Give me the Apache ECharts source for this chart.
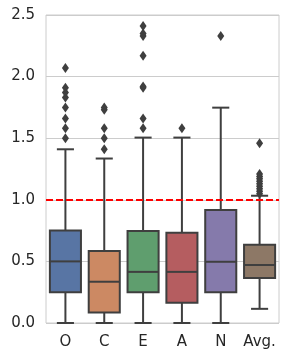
<!DOCTYPE html>
<html><head><meta charset="utf-8">
<script src="https://cdn.jsdelivr.net/npm/echarts@6/dist/echarts.min.js"></script>
<style>html,body{margin:0;padding:0;background:#fff}#c{width:288px;height:358px}</style>
</head><body><div id="c"></div>
<script>
const categories = ['O', 'C', 'E', 'A', 'N', 'Avg.'];
// [lower whisker, Q1, median, Q3, upper whisker]
const boxStats = [
  [0.0, 0.25, 0.50, 0.75, 1.41],
  [0.0, 0.085, 0.335, 0.585, 1.335],
  [0.0, 0.25, 0.415, 0.747, 1.505],
  [0.0, 0.165, 0.415, 0.733, 1.505],
  [0.0, 0.25, 0.497, 0.917, 1.748],
  [0.115, 0.365, 0.471, 0.636, 1.033]
];
const outliers = [
  [1.50, 1.58, 1.66, 1.75, 1.83, 1.87, 1.91, 2.07],
  [1.41, 1.50, 1.58, 1.73, 1.75],
  [1.58, 1.66, 1.91, 1.92, 2.17, 2.33, 2.35, 2.41],
  [1.58],
  [2.33],
  [1.05, 1.07, 1.09, 1.11, 1.13, 1.15, 1.17, 1.19, 1.21, 1.46]
];
const colors = ['#5875a4', '#cc8963', '#5f9e6e', '#b55d60', '#857aab', '#8d7866'];
const thresholdValue = 1.0;
const yTicks = { min: 0, max: 2.5, interval: 0.5 };

const lineColor = '#3f3f3f';
const boxData = boxStats.map((s, i) => [i].concat(s));
const outlierData = [];
outliers.forEach((arr, i) => arr.forEach(v => outlierData.push([i, v])));

function renderBox(params, api) {
  const idx = api.value(0);
  const lo = api.coord([idx, api.value(1)]);
  const q1 = api.coord([idx, api.value(2)]);
  const md = api.coord([idx, api.value(3)]);
  const q3 = api.coord([idx, api.value(4)]);
  const hi = api.coord([idx, api.value(5)]);
  const bw = api.size([1, 0])[0] * 0.8;
  const cw = bw * 0.55;
  const x = lo[0];
  const ls = { stroke: lineColor, lineWidth: 2 };
  return {
    type: 'group',
    children: [
      { type: 'line', shape: { x1: x, y1: q3[1], x2: x, y2: hi[1] }, style: ls },
      { type: 'line', shape: { x1: x, y1: q1[1], x2: x, y2: lo[1] }, style: ls },
      { type: 'line', shape: { x1: x - cw / 2, y1: hi[1], x2: x + cw / 2, y2: hi[1] }, style: ls },
      { type: 'line', shape: { x1: x - cw / 2, y1: lo[1], x2: x + cw / 2, y2: lo[1] }, style: ls },
      { type: 'rect', shape: { x: x - bw / 2, y: q3[1], width: bw, height: q1[1] - q3[1] },
        style: { fill: colors[idx], stroke: lineColor, lineWidth: 2 } },
      { type: 'line', shape: { x1: x - bw / 2, y1: md[1], x2: x + bw / 2, y2: md[1] }, style: ls }
    ]
  };
}

const chart = echarts.init(document.getElementById('c'), null, { renderer: 'canvas' });
chart.setOption({
  animation: false,
  backgroundColor: '#ffffff',
  grid: { left: 46, right: 9, top: 15, bottom: 35, containLabel: false, outerBoundsMode: 'none',
    show: true, borderColor: '#cccccc', borderWidth: 1, backgroundColor: 'transparent' },
  xAxis: {
    type: 'category', data: categories, boundaryGap: true,
    axisLine: { show: false }, axisTick: { show: false }, splitLine: { show: false },
    axisLabel: { color: '#262626', fontSize: 15, fontFamily: 'DejaVu Sans', margin: 12, interval: 0 }
  },
  yAxis: {
    type: 'value', min: yTicks.min, max: yTicks.max, interval: yTicks.interval,
    axisLine: { show: false }, axisTick: { show: false },
    splitLine: { show: true, lineStyle: { color: '#cccccc', width: 1 } },
    axisLabel: { color: '#262626', fontSize: 15, fontFamily: 'DejaVu Sans', margin: 11,
      formatter: v => v.toFixed(1) }
  },
  series: [
    {
      type: 'custom', renderItem: renderBox, data: boxData, z: 2,
      encode: { x: 0, y: [1, 2, 3, 4, 5] },
      markLine: {
        silent: true, symbol: 'none', z: 10,
        label: { show: false },
        lineStyle: { color: '#ff0000', width: 2, type: [7, 3] },
        data: [{ yAxis: thresholdValue }]
      }
    },
    {
      type: 'scatter', data: outlierData, symbol: 'diamond', symbolSize: [7, 10], z: 3,
      itemStyle: { color: lineColor, opacity: 1 }
    }
  ]
});
</script></body></html>
